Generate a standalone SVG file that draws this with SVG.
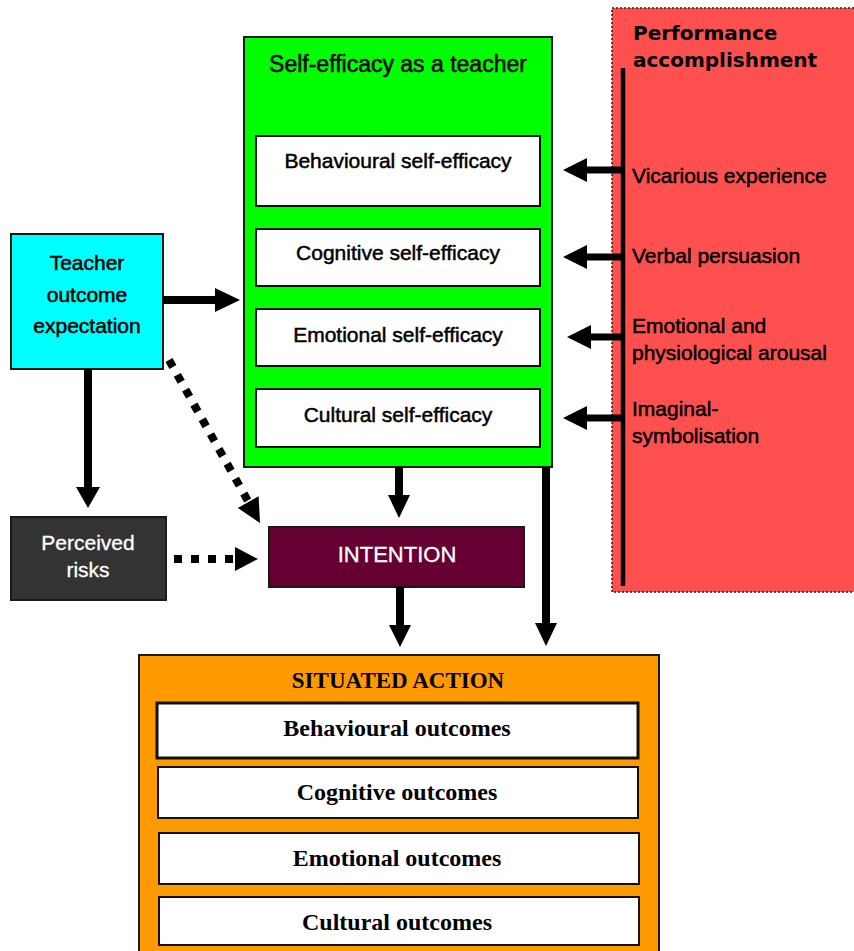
<svg xmlns="http://www.w3.org/2000/svg" width="854" height="951" viewBox="0 0 854 951">
<style>
.sans{font-family:"Liberation Sans",Arial,sans-serif;stroke:#000;stroke-width:0.5}
.serif{font-family:"Liberation Serif","Times New Roman",serif;font-weight:bold;font-size:24px}
.box{stroke:#1a1a1a;stroke-width:2}
.wbox{fill:#fff;stroke:#111;stroke-width:2}
.c{text-anchor:middle}
.lbl{font-size:21px;fill:#000}
.wt{fill:#fff;stroke:#fff}
.solid{stroke:#000;stroke-width:8;fill:none}
.dot{stroke:#000;stroke-width:8;fill:none;stroke-dasharray:8 9}
.head{fill:#000}
</style>
<rect width="854" height="951" fill="#fff"/>

<g id="performance">
  <rect x="612" y="8" width="250" height="584" fill="#FF5050" stroke="#222" stroke-width="1.5" stroke-dasharray="2 2"/>
  <text x="633" y="40" font-family="DejaVu Sans,Verdana,sans-serif" font-weight="bold" font-size="20">Performance</text>
  <text x="633" y="67" font-family="DejaVu Sans,Verdana,sans-serif" font-weight="bold" font-size="20">accomplishment</text>
  <line x1="623" y1="68" x2="623" y2="586" stroke="#000" stroke-width="4.5"/>
  <text class="sans lbl" x="632" y="183">Vicarious experience</text>
  <text class="sans lbl" x="632" y="263">Verbal persuasion</text>
  <text class="sans lbl" x="632" y="333">Emotional and</text>
  <text class="sans lbl" x="632" y="360">physiological arousal</text>
  <text class="sans lbl" x="632" y="416">Imaginal-</text>
  <text class="sans lbl" x="632" y="443">symbolisation</text>
</g>

<g id="self-efficacy">
  <rect class="box" x="244" y="37" width="308" height="430" fill="#00FF00"/>
  <text class="sans c" x="398" y="72" font-size="23">Self-efficacy as a teacher</text>
  <g id="behavioural-se"><rect class="wbox" x="256" y="136" width="284" height="70"/><text class="sans lbl c" x="398" y="168">Behavioural self-efficacy</text></g>
  <g id="cognitive-se"><rect class="wbox" x="256" y="229" width="284" height="57"/><text class="sans lbl c" x="398" y="260">Cognitive self-efficacy</text></g>
  <g id="emotional-se"><rect class="wbox" x="256" y="309" width="284" height="57"/><text class="sans lbl c" x="398" y="342">Emotional self-efficacy</text></g>
  <g id="cultural-se"><rect class="wbox" x="256" y="389" width="284" height="58"/><text class="sans lbl c" x="398" y="422">Cultural self-efficacy</text></g>
</g>

<g id="teacher-outcome">
  <rect class="box" x="11" y="234" width="152" height="135" fill="#00FFFF"/>
  <text class="sans lbl c" x="87" y="270">Teacher</text>
  <text class="sans lbl c" x="87" y="302">outcome</text>
  <text class="sans lbl c" x="87" y="333">expectation</text>
</g>

<g id="perceived-risks">
  <rect class="box" x="11" y="517" width="155" height="83" fill="#333333"/>
  <text class="sans lbl c wt" x="88" y="550" style="fill:#fff;stroke:#fff;stroke-width:0.3">Perceived</text>
  <text class="sans lbl c wt" x="88" y="577" style="fill:#fff;stroke:#fff;stroke-width:0.3">risks</text>
</g>

<g id="intention">
  <rect class="box" x="269" y="527" width="255" height="60" fill="#660033"/>
  <text class="sans c" x="397" y="562" font-size="22" style="fill:#fff;stroke:#fff;stroke-width:0.3">INTENTION</text>
</g>

<g id="situated-action">
  <rect class="box" x="139" y="655" width="520" height="300" fill="#FF9900"/>
  <text class="serif c" x="398" y="688" style="font-size:23px">SITUATED ACTION</text>
  <g id="behavioural-out"><rect class="wbox" x="157" y="703" width="481" height="55" style="stroke-width:3"/><text class="serif c" x="397" y="736">Behavioural outcomes</text></g>
  <g id="cognitive-out"><rect class="wbox" x="158" y="767" width="480" height="51"/><text class="serif c" x="397" y="800">Cognitive outcomes</text></g>
  <g id="emotional-out"><rect class="wbox" x="159" y="833" width="480" height="51"/><text class="serif c" x="397" y="866">Emotional outcomes</text></g>
  <g id="cultural-out"><rect class="wbox" x="159" y="897" width="480" height="48"/><text class="serif c" x="397" y="930">Cultural outcomes</text></g>
</g>

<g id="connectors">
  <line class="solid" x1="621" y1="170" x2="586" y2="170" style="stroke-width:7"/>
  <polygon class="head" points="563,170 587,158 587,182"/>
  <line class="solid" x1="621" y1="257" x2="586" y2="257" style="stroke-width:7"/>
  <polygon class="head" points="563,257 587,245 587,269"/>
  <line class="solid" x1="621" y1="337" x2="590" y2="337" style="stroke-width:7"/>
  <polygon class="head" points="567,337 591,325 591,349"/>
  <line class="solid" x1="621" y1="418" x2="586" y2="418" style="stroke-width:7"/>
  <polygon class="head" points="563,418 587,406 587,430"/>
  <line class="solid" x1="163" y1="300" x2="217" y2="300"/>
  <polygon class="head" points="240,300 215,288 215,312"/>
  <line class="solid" x1="88" y1="369" x2="88" y2="489"/>
  <polygon class="head" points="88,508 76,487 100,487"/>
  <line class="dot" x1="169" y1="360" x2="248" y2="501"/>
  <polygon class="head" points="260,523 258.6,496.2 237.8,508"/>
  <line class="dot" x1="174" y1="559" x2="236" y2="559"/>
  <polygon class="head" points="258,559 235,547 235,571"/>
  <line class="solid" x1="399" y1="467" x2="399" y2="497"/>
  <polygon class="head" points="399,518 388,495 410,495"/>
  <line class="solid" x1="400" y1="587" x2="400" y2="627"/>
  <polygon class="head" points="400,647 389,625 411,625"/>
  <line class="solid" x1="546" y1="467" x2="546" y2="625"/>
  <polygon class="head" points="546,646 535,623 557,623"/>
</g>
</svg>
